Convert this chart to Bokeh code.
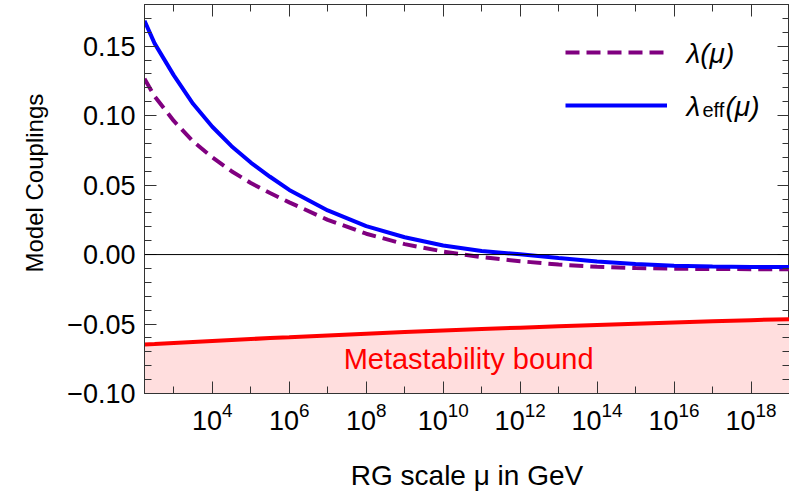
from bokeh.plotting import figure
from bokeh.models import (LogAxis, LinearAxis, FixedTicker, Span, Label, Title,
                          Legend, LegendItem, Range1d, ColumnDataSource,
                          LogTickFormatter)
from bokeh.embed import file_html
from bokeh.resources import INLINE

# ---------------- data ----------------
log_mu = [2.238, 2.5, 3.0, 3.5, 4.0, 4.5, 5.0, 5.5, 6.0, 7.0, 8.0, 9.0, 10.0,
          11.0, 12.0, 13.0, 14.0, 15.0, 16.0, 17.0, 18.0, 19.0]
lam = [0.1265, 0.1140, 0.0962, 0.0815, 0.0700, 0.0600, 0.0515, 0.0443, 0.0376,
       0.0250, 0.0150, 0.0075, 0.0022, -0.0018, -0.0048, -0.0072, -0.0088,
       -0.0097, -0.0102, -0.0104, -0.0105, -0.0105]
lam_eff = [0.1683, 0.1520, 0.1290, 0.1085, 0.0920, 0.0780, 0.0662, 0.0560, 0.0465,
           0.0318, 0.0205, 0.0125, 0.0065, 0.0025, 0.0002, -0.0025, -0.0050,
           -0.0068, -0.0080, -0.0086, -0.0089, -0.0090]
bound = [-0.0648, -0.0644, -0.0636, -0.0629, -0.0622, -0.0615, -0.0608, -0.0601,
         -0.0595, -0.0582, -0.0570, -0.0558, -0.0547, -0.0536, -0.0526, -0.0516,
         -0.0507, -0.0498, -0.0489, -0.0480, -0.0472, -0.0465]

x_major = [1e4, 1e6, 1e8, 1e10, 1e12, 1e14, 1e16, 1e18]
x_minor = [1e3, 1e5, 1e7, 1e9, 1e11, 1e13, 1e15, 1e17, 1e19]
y_major = [-0.10, -0.05, 0.00, 0.05, 0.10, 0.15]
y_labels = ["−0.10", "−0.05", "0.00", "0.05", "0.10", "0.15"]
y_minor = [round(-0.10 + 0.01 * k, 2) for k in range(29)]

X0, X1 = 10 ** 2.238, 1e19
Y0, Y1 = -0.10, 0.180

mu = [10 ** t for t in log_mu]
src = ColumnDataSource(dict(mu=mu, lam=lam, lam_eff=lam_eff, bound=bound,
                            floor=[Y0 - 0.05] * len(mu)))

FONT = "Liberation Sans"
AX = "#333333"
FS = "27px"

p = figure(frame_width=645, frame_height=389, x_axis_type="log",
           x_range=Range1d(X0, X1), y_range=Range1d(Y0, Y1),
           output_backend="svg", toolbar_location=None,
           min_border_left=144, min_border_right=0, min_border_top=4,
           min_border_bottom=0)
p.background_fill_color = "white"
p.border_fill_color = "white"
p.grid.visible = False
p.outline_line_color = AX
p.outline_line_width = 1

# metastability region
p.varea(x="mu", y1="floor", y2="bound", source=src, fill_color="#ffdede")
p.line(x="mu", y="bound", source=src, line_color="#ff0000", line_width=4)

p.add_layout(Span(location=0, dimension="width", line_color="black", line_width=1))

r_lam = p.line(x="mu", y="lam", source=src, line_color="#800080", line_width=4,
               line_dash="14 7")
r_eff = p.line(x="mu", y="lam_eff", source=src, line_color="#0000ff", line_width=4)

# ---------------- axes ----------------
xt = FixedTicker(ticks=x_major, minor_ticks=x_minor)
yt = FixedTicker(ticks=y_major, minor_ticks=y_minor)


def style(ax, labels=True):
    ax.axis_line_color = AX
    ax.major_tick_line_color = AX
    ax.minor_tick_line_color = AX
    ax.major_tick_in = 12
    ax.major_tick_out = 0
    ax.minor_tick_in = 7
    ax.minor_tick_out = 0
    if labels:
        ax.major_label_text_font = FONT
        ax.major_label_text_font_size = FS
        ax.major_label_text_color = "black"
    else:
        ax.major_label_text_font_size = "1px"
        ax.major_label_text_alpha = 0
        ax.major_label_standoff = 0


xa = p.xaxis[0]
xa.ticker = xt
xa.formatter = LogTickFormatter()
style(xa)
xa.major_label_standoff = 8
xa.axis_label = "RG scale μ in GeV"
xa.axis_label_text_font = FONT
xa.axis_label_text_font_size = "28px"
xa.axis_label_text_font_style = "normal"
xa.axis_label_text_color = "black"
xa.axis_label_standoff = 27

ya = p.yaxis[0]
ya.ticker = yt
style(ya)
ya.major_label_overrides = {v: s for v, s in zip(y_major, y_labels)}
ya.major_label_standoff = 9

top = LogAxis(ticker=xt)
style(top, labels=False)
p.add_layout(top, "above")
right = LinearAxis(ticker=yt)
style(right, labels=False)
p.add_layout(right, "right")

# y axis title (placed as a side title so it can sit off-centre like the original)
p.add_layout(Title(text="Model Couplings", align="left", offset=121, standoff=34,
                   text_font=FONT, text_font_size="24px", text_font_style="normal",
                   text_color="black"), "left")

# ---------------- legend ----------------
legend = Legend(items=[LegendItem(label="·", renderers=[r_lam]),
                       LegendItem(label="·", renderers=[r_eff])],
                location=(421, 273), orientation="vertical",
                glyph_width=102, glyph_height=30, label_height=30, spacing=23,
                padding=0, margin=0, border_line_alpha=0,
                background_fill_alpha=0, label_text_font_size="8px",
                label_text_alpha=0, label_standoff=0)
p.add_layout(legend)

lab_kw = dict(x_units="screen", y_units="screen", text_font=FONT,
              text_baseline="middle", text_color="black")
p.add_layout(Label(x=542, y=340, text="λ(μ)", text_font_size="28px",
                   text_font_style="italic", **lab_kw))
p.add_layout(Label(x=542, y=287.5, text="λ", text_font_size="28px",
                   text_font_style="italic", **lab_kw))
p.add_layout(Label(x=558, y=284, text="eff", text_font_size="20px", **lab_kw))
p.add_layout(Label(x=581, y=287.5, text="(μ)", text_font_size="28px",
                   text_font_style="italic", **lab_kw))

p.add_layout(Label(x=10 ** 10.66, y=-0.0755, text="Metastability bound",
                   text_font=FONT, text_font_size="29px",
                   text_color="#ff0000", text_align="center",
                   text_baseline="middle"))

open("out.html", "w").write(file_html(p, INLINE))
